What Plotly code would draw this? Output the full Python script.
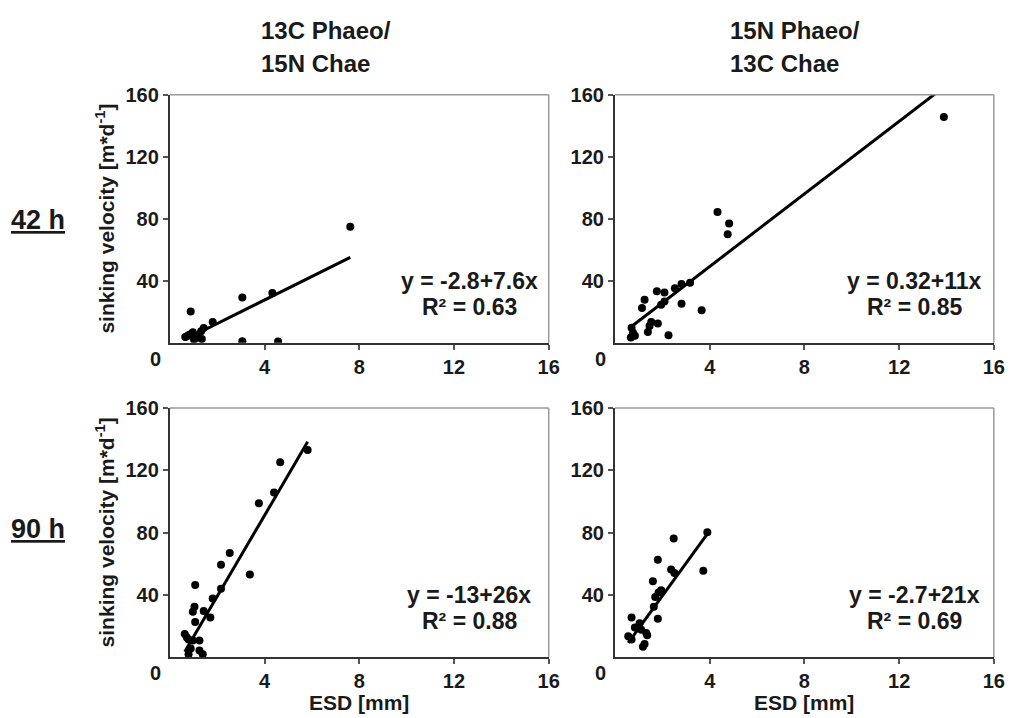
import plotly.graph_objects as go

# ---------------- data ----------------
# Top-left: 13C Phaeo / 15N Chae, 42 h
p1_x = [0.65, 0.75, 0.84, 0.88, 0.97, 1.02, 1.11, 1.18, 1.32, 1.35, 1.43, 1.81, 3.06, 3.06, 4.33, 4.57, 7.62]
p1_y = [3.8, 4.5, 5.3, 20.2, 6.8, 2.2, 4.7, 3.5, 7.4, 2.5, 9.5, 13.4, 29.2, 1.0, 32.2, 0.8, 74.8]

# Top-right: 15N Phaeo / 13C Chae, 42 h
p2_x = [0.67, 0.70, 0.76, 0.84, 1.14, 1.25, 1.39, 1.46, 1.53, 1.77, 1.81, 1.95, 2.09, 2.09, 2.26,
        2.53, 2.81, 2.81, 3.17, 3.66, 4.33, 4.76, 4.82, 13.89]
p2_y = [3.4, 9.7, 6.5, 4.5, 22.4, 27.8, 7.0, 10.8, 13.4, 33.2, 12.5, 24.6, 32.4, 26.7, 4.9,
        35.2, 37.9, 25.2, 38.8, 21.0, 84.4, 70.0, 77.0, 145.7]

# Bottom-left: 13C Phaeo / 15N Chae, 90 h
p3_x = [0.63, 0.72, 0.79, 0.79, 0.88, 0.97, 0.97, 1.04, 1.07, 1.07, 1.25, 1.25, 1.39, 1.43, 1.71,
        1.81, 2.16, 2.16, 2.53, 3.38, 3.76, 4.40, 4.66, 5.82]
p3_y = [14.8, 12.5, 11.2, 1.7, 5.5, 10.6, 29.1, 32.3, 22.4, 46.2, 10.6, 4.2, 1.7, 29.6, 25.3,
        37.6, 43.9, 59.3, 66.9, 53.0, 98.8, 105.8, 125.2, 133.0]

# Bottom-right: 15N Phaeo / 13C Chae, 90 h
p4_x = [0.56, 0.70, 0.70, 0.84, 1.04, 1.11, 1.18, 1.25, 1.32, 1.36, 1.60, 1.64, 1.70, 1.81, 1.81,
        1.84, 1.95, 2.37, 2.48, 2.51, 3.73, 3.90]
p4_y = [13.3, 11.2, 25.3, 19.0, 21.7, 17.5, 6.6, 8.4, 15.4, 13.9, 48.6, 32.3, 38.6, 24.5, 62.5,
        41.4, 42.9, 56.2, 76.2, 54.0, 55.5, 80.2]

xs = [p1_x, p2_x, p3_x, p4_x]
ys = [p1_y, p2_y, p3_y, p4_y]

# drawn regression lines (intercept, slope) as seen in the picture
fit_a = [-2.8, 2.4, -13.0, -2.7]
fit_b = [7.6, 11.7, 26.0, 21.0]

eq_text = ["y = -2.8+7.6x", "y = 0.32+11x", "y = -13+26x", "y = -2.7+21x"]
r2_text = ["R² = 0.63", "R² = 0.85", "R² = 0.88", "R² = 0.69"]

col_titles = [["13C Phaeo/", "15N Chae"], ["15N Phaeo/", "13C Chae"]]
row_labels = ["42 h", "90 h"]

x_ticks = [0, 4, 8, 12, 16]
y_ticks = [0, 40, 80, 120, 160]
x_title = "ESD [mm]"
y_title = "sinking velocity [m*d<sup>-1</sup>]"

# ---------------- layout geometry ----------------
W, H = 1018, 718
FONT = "Liberation Sans, Arial, Helvetica, sans-serif"
TXT = "#1a1a1a"

x_dom = [[171.7 / W, 554.7 / W], [621.7 / W, 1004.7 / W]]
y_dom = [[1 - 337.0 / H, 1 - 85.0 / H], [1 - 656.0 / H, 1 - 403.3 / H]]

fig = go.Figure()
annotations = []
shapes = []

for i in range(4):
    r, c = divmod(i, 2)
    sfx = "" if i == 0 else str(i + 1)
    xa, ya = "x" + sfx, "y" + sfx

    fig.add_trace(go.Scatter(
        x=xs[i], y=ys[i], mode="markers", xaxis=xa, yaxis=ya,
        marker=dict(color="black", size=8, line=dict(width=0)),
        showlegend=False, hoverinfo="x+y"))

    x0, x1 = min(xs[i]), max(xs[i])
    fig.add_trace(go.Scatter(
        x=[x0, x1], y=[fit_a[i] + fit_b[i] * x0, fit_a[i] + fit_b[i] * x1],
        mode="lines", xaxis=xa, yaxis=ya,
        line=dict(color="black", width=3), showlegend=False, hoverinfo="skip"))

    axis_common = dict(
        showgrid=False, zeroline=False, showline=True, linecolor="#333333", linewidth=2,
        ticks="outside", ticklen=5, tickwidth=1.5, tickcolor="#555555",
        tickfont=dict(family=FONT, size=20, color=TXT, weight="bold"),
    )
    # the shared "0" at the corner is drawn once as an annotation below
    fig.layout["xaxis" + sfx] = dict(
        axis_common, domain=x_dom[c], anchor=ya, range=[0, 16], tickvals=x_ticks[1:],
        ticktext=[str(t) for t in x_ticks[1:]], fixedrange=True)
    fig.layout["yaxis" + sfx] = dict(
        axis_common, domain=y_dom[r], anchor=xa, range=[0, 160], tickvals=y_ticks[1:],
        ticktext=[str(t) for t in y_ticks[1:]], fixedrange=True)

    # light grey frame on top and right
    shapes.append(dict(type="line", xref=xa + " domain", yref=ya + " domain",
                       x0=0, x1=1, y0=1, y1=1, line=dict(color="#999999", width=1.5)))
    shapes.append(dict(type="line", xref=xa + " domain", yref=ya + " domain",
                       x0=1, x1=1, y0=0, y1=1, line=dict(color="#999999", width=1.5)))

    # shared corner "0"
    annotations.append(dict(text=str(x_ticks[0]), xref=xa + " domain", yref=ya + " domain",
                            x=0, y=0, xshift=-14, yshift=-16, showarrow=False, xanchor="center",
                            yanchor="middle", font=dict(family=FONT, size=20, color=TXT, weight="bold")))

    # equation and R²
    annotations.append(dict(text=eq_text[i], xref=xa + " domain", yref=ya + " domain",
                            x=0.79, y=0.25, showarrow=False, xanchor="center", yanchor="middle",
                            font=dict(family=FONT, size=23, color=TXT, weight="bold")))
    annotations.append(dict(text=r2_text[i], xref=xa + " domain", yref=ya + " domain",
                            x=0.79, y=0.145, showarrow=False, xanchor="center", yanchor="middle",
                            font=dict(family=FONT, size=23, color=TXT, weight="bold")))

    # y-axis title (left column only)
    if c == 0:
        annotations.append(dict(text=y_title, xref="paper", yref=ya + " domain",
                                x=106 / W, y=0.5, textangle=-90, showarrow=False,
                                xanchor="center", yanchor="middle",
                                font=dict(family=FONT, size=21, color=TXT, weight="bold")))
    # x-axis title (bottom row only)
    if r == 1:
        annotations.append(dict(text=x_title, xref=xa + " domain", yref="paper",
                                x=0.5, y=1 - 702 / H, showarrow=False,
                                xanchor="center", yanchor="middle",
                                font=dict(family=FONT, size=21, color=TXT, weight="bold")))

# column titles
for c in range(2):
    for k, line in enumerate(col_titles[c]):
        annotations.append(dict(text=line, xref="paper", yref="paper",
                                x=[262 / W, 736 / W][c], y=1 - [20, 53][k] / H,
                                showarrow=False, xanchor="left", yanchor="middle",
                                font=dict(family=FONT, size=24, color=TXT, weight="bold")))

# row labels
for r in range(2):
    annotations.append(dict(text="<u>" + row_labels[r] + "</u>", xref="paper", yref="paper",
                            x=38 / W, y=1 - [212, 526][r] / H, showarrow=False,
                            xanchor="center", yanchor="middle",
                            font=dict(family=FONT, size=27, color=TXT, weight="bold")))

fig.update_layout(
    width=W, height=H, margin=dict(l=0, r=0, t=0, b=0),
    paper_bgcolor="white", plot_bgcolor="white",
    annotations=annotations, shapes=shapes, showlegend=False,
)

fig.write_html("out.html")
